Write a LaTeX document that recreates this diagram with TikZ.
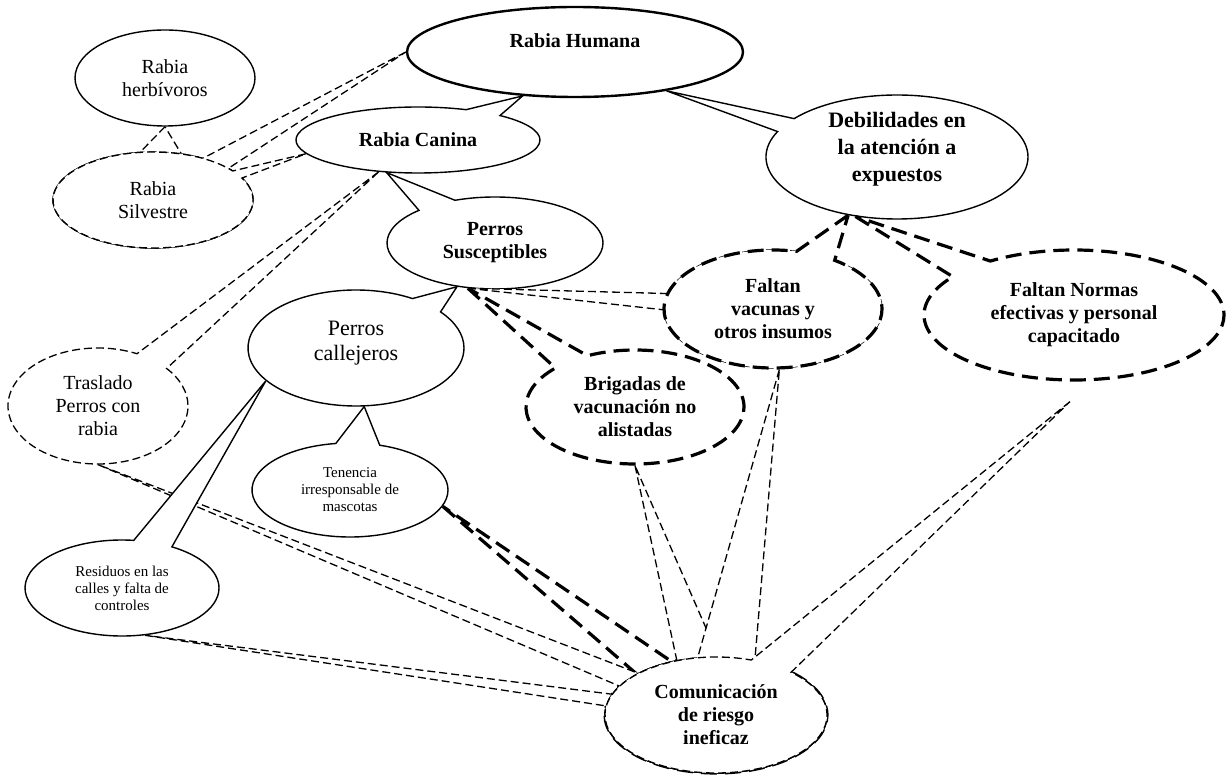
\documentclass[tikz,border=0pt]{standalone}
\usepackage{fontspec}
\setmainfont{Liberation Serif}
\usetikzlibrary{
    backgrounds,
    calc,
    shapes.callouts,
    shapes.geometric
}

\tikzset{
    plainoval/.style={ellipse, draw, fill=white, line width=1.4pt, inner sep=0pt, align=center},
    balloon/.style={ellipse callout, draw, fill=white, line width=1.4pt, inner sep=0pt, align=center},
    thindash/.style={dash pattern=on 8pt off 4pt, line width=1.3pt},
    thickdash/.style={dash pattern=on 16pt off 8pt, line width=3.2pt},
    oval/.style 2 args={minimum width=#1, minimum height=#2},
    txt/.style={font=\fontsize{20}{23}\selectfont},
    txtb/.style={font=\fontsize{20}{23}\selectfont\bfseries},
    txts/.style={font=\fontsize{15}{17}\selectfont}
}

\begin{document}
\begin{tikzpicture}[x=1pt, y=-1pt]
    \useasboundingbox (0,0) rectangle (1228,775);

    % Top ovals
    \node[plainoval, oval={336}{90}, line width=2.4pt, txtb] (rh) at (575,52) {Rabia Humana\\\mbox{}};
    \node[plainoval, oval={180}{96}, txt] (rhb) at (165,78) {Rabia\\herbívoros};
    \node[balloon, oval={244}{66}, txtb, callout absolute pointer={(rh.220)}, callout pointer arc=19] (rc) at (418,140) {Rabia Canina};

    % Rabia Silvestre points three ways
    \node[balloon, thindash, oval={200}{96}, callout absolute pointer={(rhb.south)}, callout pointer arc=24] (rs-a) at (153,200) {};
    \node[balloon, thindash, oval={200}{96}, callout absolute pointer={(rh.west)}, callout pointer arc=19] (rs-b) at (153,200) {};
    \node[balloon, thindash, oval={200}{96}, txt, callout absolute pointer={(rc.187)}, callout pointer arc=10] (rs) at (153,200) {Rabia\\Silvestre};

    % Dogs
    \node[balloon, oval={216}{92}, txtb, callout absolute pointer={(rc.226)}, callout pointer arc=23] (ps) at (495,243) {Perros\\Susceptibles};
    \node[balloon, oval={216}{116}, font=\fontsize{22}{25}\selectfont, callout absolute pointer={(ps.229)}, callout pointer arc=20] (pc) at (356,348) {Perros\\callejeros\\[-10pt]\mbox{}};
    \node[balloon, thindash, oval={180}{116}, txt, callout absolute pointer={(rc.219)}, callout pointer arc=24] (tr) at (98,406) {Traslado\\Perros con\\rabia};
    \node[balloon, oval={196}{94}, txts, callout absolute pointer={(pc.-82)}, callout pointer arc=26] (te) at (350,490) {Tenencia\\irresponsable de\\mascotas};
    \node[balloon, oval={194}{96}, txts, callout absolute pointer={(pc.200)}, callout pointer arc=24] (re) at (122,588) {Residuos en las\\calles y falta de\\controles};

    % Right side
    \node[balloon, oval={262}{124}, inner ysep=-2pt, font=\fontsize{22}{27}\selectfont\bfseries, callout absolute pointer={(rh.-23)}, callout pointer arc=14] (de) at (897,157) {Debilidades en\\la atención a\\expuestos\\[-6pt]\mbox{}};
    \node[balloon, thickdash, oval={300}{130}, txtb, callout absolute pointer={(de.235)}, callout pointer arc=20] (fn) at (1074,315) {Faltan Normas\\efectivas y personal\\capacitado};
    \node[balloon, thindash, oval={218}{118}, callout absolute pointer={(ps.239)}, callout pointer arc=16] (fv-a) at (773,309) {};
    \node[balloon, thickdash, oval={218}{118}, txtb, callout absolute pointer={(de.230)}, callout pointer arc=22] (fv) at (773,309) {Faltan\\vacunas y\\otros insumos};
    \node[balloon, thickdash, oval={218}{114}, txtb, callout absolute pointer={(ps.239)}, callout pointer arc=21] (br) at (635,407) {Brigadas de\\vacunación no\\alistadas};

    % Comunicacion de riesgo, drawn behind the rest
    \begin{scope}[on background layer]
        \fill[white] (0,0) rectangle (1228,775);
        \node[balloon, thickdash, oval={222}{116}, callout absolute pointer={(te.-10)}, callout pointer arc=22] (cr-te) at (716,715) {};
        \node[balloon, thindash, oval={222}{116}, callout absolute pointer={(re.-64)}, callout pointer arc=12] (cr-re) at (716,715) {};
        \node[balloon, thindash, oval={222}{116}, callout absolute pointer={(tr.south)}, callout pointer arc=16] (cr-tr) at (716,715) {};
        \node[balloon, thindash, oval={222}{116}, callout absolute pointer={(br.south)}, callout pointer arc=22] (cr-br) at (716,715) {};
        \node[balloon, thindash, oval={222}{116}, callout absolute pointer={(fv.-84)}, callout pointer arc=30] (cr-fv) at (716,715) {};
        \node[balloon, thindash, oval={222}{116}, txtb, callout absolute pointer={($(fn.south)+(-4,20)$)}, callout pointer arc=24] (cr) at (716,715) {Comunicación\\de riesgo\\ineficaz};
    \end{scope}
\end{tikzpicture}
\end{document}
